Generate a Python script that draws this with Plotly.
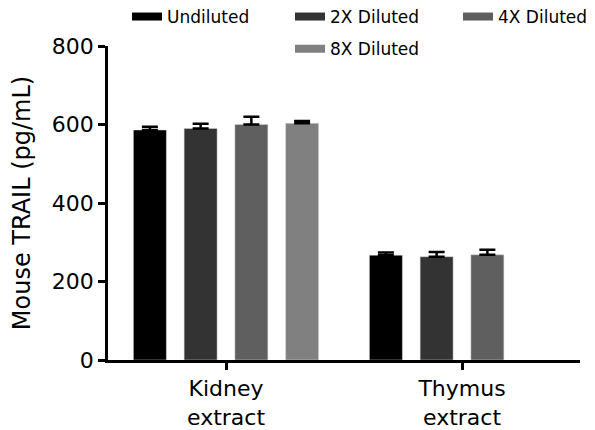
import plotly.graph_objects as go

categories = ["Kidney<br>extract", "Thymus<br>extract"]
series_names = ["Undiluted", "2X Diluted", "4X Diluted", "8X Diluted"]
means = {
    "Undiluted": [586, 267],
    "2X Diluted": [590, 263],
    "4X Diluted": [600, 268],
    "8X Diluted": [603, None],
}
errors = {
    "Undiluted": [8, 7],
    "2X Diluted": [12, 12],
    "4X Diluted": [20, 13],
    "8X Diluted": [6, None],
}
colors = ["#000000", "#333333", "#5f5f5f", "#808080"]

FONT = "DejaVu Sans"
fig = go.Figure()
for name, col in zip(series_names, colors):
    fig.add_trace(go.Bar(
        x=categories, y=means[name], name=name,
        marker=dict(color=col, line=dict(color="#d8d8d8", width=0.5)),
        error_y=dict(type="data", array=errors[name], symmetric=False,
                     arrayminus=[0, 0], color="black", thickness=2.5, width=8),
        showlegend=False,
    ))

legend_ids = ["legend", "legend2", "legend3", "legend4"]
legend_pos = [(0.0403, 1.0924), (0.3856, 1.0924), (0.7415, 1.0924), (0.3856, 0.990)]
for name, col, lid in zip(series_names, colors, legend_ids):
    fig.add_trace(go.Scatter(
        x=[None], y=[None], mode="lines", name=name,
        line=dict(color=col, width=8), legend=lid,
    ))

layout_legends = {}
for lid, (lx, ly) in zip(legend_ids, legend_pos):
    layout_legends[lid] = dict(orientation="h", x=lx, xanchor="left", y=ly,
                               yanchor="middle", font=dict(size=17), itemwidth=30,
                               bgcolor="rgba(0,0,0,0)")

fig.update_layout(
    width=587, height=422,
    margin=dict(l=100, r=15, t=38, b=70, autoexpand=False),
    plot_bgcolor="white", paper_bgcolor="white",
    barmode="group", bargap=0.14, bargroupgap=0.35,
    font=dict(family=FONT, color="black"),
    xaxis=dict(range=[-0.5, 1.5], showline=True, linecolor="black", linewidth=2.5,
               ticks="outside", ticklen=7, tickwidth=2.5, tickcolor="black",
               tickfont=dict(size=22), showgrid=False, zeroline=False),
    yaxis=dict(range=[0, 800], tickvals=[0, 200, 400, 600, 800], showline=True,
               linecolor="black", linewidth=2.5, ticks="outside", ticklen=7,
               tickwidth=2.5, tickcolor="black", tickfont=dict(size=22),
               showgrid=False, zeroline=False,
               title=dict(text="Mouse TRAIL (pg/mL)", font=dict(size=24), standoff=16)),
    **layout_legends,
)
fig.write_html("out.html")
